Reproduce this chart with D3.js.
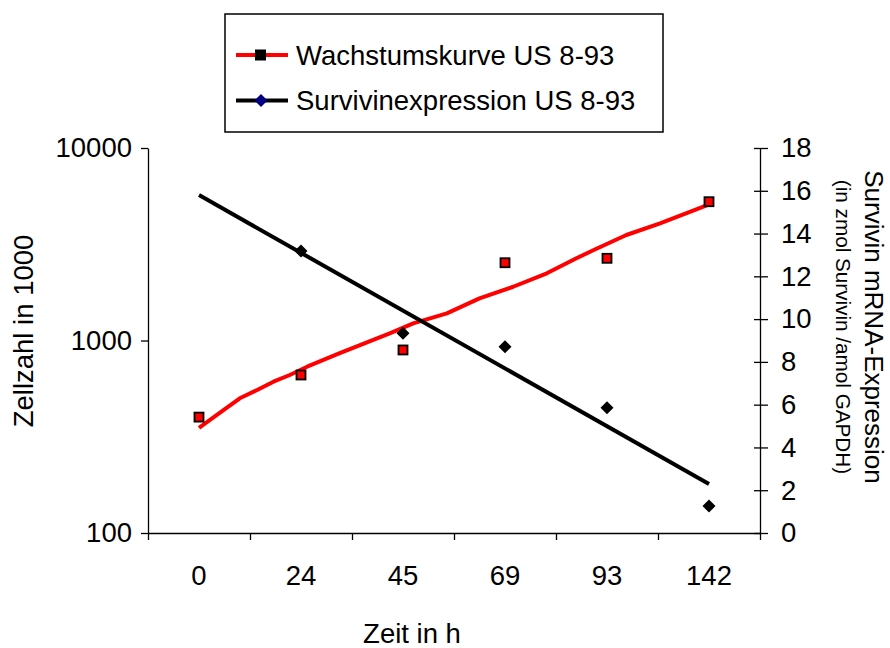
<!DOCTYPE html>
<html>
<head>
<meta charset="utf-8">
<script src="https://cdn.jsdelivr.net/npm/d3@7"></script>
<style>
  body { margin: 0; background: #fff; }
  svg { display: block; font-family: "Liberation Sans", Arial, sans-serif; }
  .axis path, .axis line { stroke: #000; stroke-width: 1.3; }
  .axis text { font-size: 27.5px; fill: #000; font-family: "Liberation Sans", Arial, sans-serif; }
</style>
</head>
<body>
<svg class="chart"></svg>
<script>
// categories on the x axis (hours)
const hours = ['0', '24', '45', '69', '93', '142']

// growth curve, cells in 1000 (left log axis)
const cellCounts = [400, 662, 893, 2535, 2673, 5260]

// survivin expression (right axis), no value at 0 h
const survivin = [null, 13.18, 9.34, 8.71, 5.86, 1.26]

// trendline of the growth curve (category index, value)
const growthTrendPos = [0, 0.24, 0.40, 0.57, 0.73, 0.89, 1.06, 1.38, 1.87, 2.10, 2.43, 2.75, 3.08, 3.41, 3.70, 3.87, 4.19, 4.52, 4.99]
const growthTrend = [352, 435, 501, 553, 611, 662, 731, 859, 1090, 1227, 1384, 1656, 1902, 2233, 2673, 2952, 3532, 4063, 5058]

// linear trendline of the survivin series
const survivinTrendPos = [0, 5]
const survivinTrend = [15.8, 2.29]

const leftTicks = [100, 1000, 10000]
const rightTicks = [0, 2, 4, 6, 8, 10, 12, 14, 16, 18]

const legendLabels = ['Wachstumskurve US 8-93', 'Survivinexpression US 8-93']

const drawChart = () => {

    const width = 890
    const height = 648
    const plot = { left: 148, right: 760, top: 148, bottom: 533 }

    const svg = d3.select('.chart')
        .attr('width', width)
        .attr('height', height)

    // scales
    const x = d3.scaleBand()
        .domain(hours)
        .range([plot.left, plot.right])
        .padding(0)

    // index scale, same span as the bands, used for trendlines and tick marks
    const xi = d3.scaleLinear()
        .domain([-0.5, hours.length - 0.5])
        .range([plot.left, plot.right])

    const yLeft = d3.scaleLog()
        .domain([100, 10000])
        .range([plot.bottom, plot.top])

    const yRight = d3.scaleLinear()
        .domain([0, 18])
        .range([plot.bottom, plot.top])

    // left axis
    svg.append('g')
        .attr('class', 'axis')
        .attr('transform', `translate(${plot.left},0)`)
        .call(d3.axisLeft(yLeft).tickValues(leftTicks).tickFormat(d3.format('d')).tickSize(7).tickSizeOuter(0).tickPadding(9))

    // right axis, ticks cross the line
    const gr = svg.append('g')
        .attr('class', 'axis')
        .attr('transform', `translate(${plot.right},0)`)
        .call(d3.axisRight(yRight).tickValues(rightTicks).tickSize(8).tickSizeOuter(0).tickPadding(13))
    gr.selectAll('.tick line').attr('x1', -6)

    // bottom axis: marks between categories
    svg.append('g')
        .attr('class', 'axis')
        .attr('transform', `translate(0,${plot.bottom})`)
        .call(d3.axisBottom(xi).tickValues(d3.range(-0.5, hours.length, 1)).tickFormat('').tickSize(7).tickSizeOuter(0))

    // bottom axis: category labels in the middle of each band
    const gx = svg.append('g')
        .attr('class', 'axis')
        .attr('transform', `translate(0,${plot.bottom})`)
        .call(d3.axisBottom(x).tickSize(0).tickPadding(32))
    gx.select('.domain').remove()

    // axis titles
    svg.append('text')
        .attr('transform', `translate(33,331) rotate(-90)`)
        .attr('text-anchor', 'middle')
        .attr('font-size', 27.5)
        .text('Zellzahl in 1000')

    svg.append('text')
        .attr('transform', `translate(865,327) rotate(90)`)
        .attr('text-anchor', 'middle')
        .attr('font-size', 26)
        .text('Survivin mRNA-Expression')

    svg.append('text')
        .attr('transform', `translate(836,327) rotate(90)`)
        .attr('text-anchor', 'middle')
        .attr('font-size', 20.7)
        .text('(in zmol Survivin /amol GAPDH)')

    svg.append('text')
        .attr('x', 412)
        .attr('y', 643)
        .attr('text-anchor', 'middle')
        .attr('font-size', 27.5)
        .text('Zeit in h')

    // trendlines
    const growthLine = d3.line()
        .x((d, i) => xi(growthTrendPos[i]))
        .y(d => yLeft(d))

    svg.append('path')
        .datum(growthTrend)
        .attr('d', growthLine)
        .attr('fill', 'none')
        .attr('stroke', '#ff0000')
        .attr('stroke-width', 4)
        .attr('stroke-linejoin', 'round')

    const survivinLine = d3.line()
        .x((d, i) => xi(survivinTrendPos[i]))
        .y(d => yRight(d))

    svg.append('path')
        .datum(survivinTrend)
        .attr('d', survivinLine)
        .attr('fill', 'none')
        .attr('stroke', '#000')
        .attr('stroke-width', 4)

    // growth markers: red squares with black border
    svg.selectAll('.growth-pt')
        .data(cellCounts)
        .enter()
        .append('rect')
        .attr('class', 'growth-pt')
        .attr('x', (d, i) => x(hours[i]) + x.bandwidth() / 2 - 4.5)
        .attr('y', d => yLeft(d) - 4.5)
        .attr('width', 9)
        .attr('height', 9)
        .attr('fill', '#ff0000')
        .attr('stroke', '#000')
        .attr('stroke-width', 1.8)

    // survivin markers: black diamonds
    const diamond = r => `M0,${-r}L${r},0L0,${r}L${-r},0Z`

    svg.selectAll('.surv-pt')
        .data(survivin.map((v, i) => ({ v, h: hours[i] })).filter(d => d.v !== null))
        .enter()
        .append('path')
        .attr('class', 'surv-pt')
        .attr('transform', d => `translate(${x(d.h) + x.bandwidth() / 2},${yRight(d.v)})`)
        .attr('d', diamond(6.5))
        .attr('fill', '#000')

    // legend
    const legend = svg.append('g')

    legend.append('rect')
        .attr('x', 225)
        .attr('y', 14)
        .attr('width', 438)
        .attr('height', 118)
        .attr('fill', '#fff')
        .attr('stroke', '#000')
        .attr('stroke-width', 1.5)

    const rows = legend.selectAll('.leg')
        .data(legendLabels)
        .enter()
        .append('g')
        .attr('class', 'leg')
        .attr('transform', (d, i) => `translate(0,${55 + i * 45.5})`)

    rows.append('line')
        .attr('x1', 236)
        .attr('x2', 288)
        .attr('stroke', (d, i) => i === 0 ? '#ff0000' : '#000')
        .attr('stroke-width', 4)

    rows.filter((d, i) => i === 0)
        .append('rect')
        .attr('x', 255)
        .attr('y', -5.5)
        .attr('width', 11)
        .attr('height', 11)
        .attr('fill', '#000')

    rows.filter((d, i) => i === 1)
        .append('path')
        .attr('transform', 'translate(261,0)')
        .attr('d', diamond(6.5))
        .attr('fill', '#000080')

    rows.append('text')
        .attr('x', 296)
        .attr('y', 9.5)
        .attr('font-size', 27.5)
        .text(d => d)
}

drawChart()
</script>
</body>
</html>
